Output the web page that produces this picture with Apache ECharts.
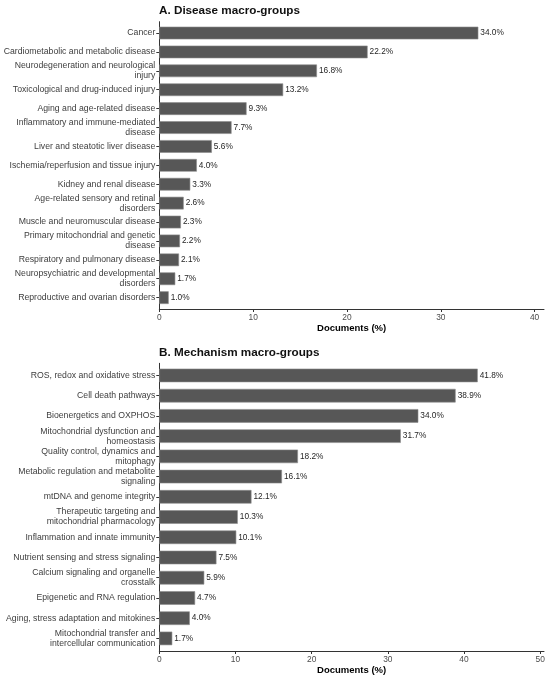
<!DOCTYPE html>
<html>
<head>
<meta charset="utf-8">
<script src="https://cdn.jsdelivr.net/npm/echarts@6/dist/echarts.min.js"></script>
<style>
html,body{margin:0;padding:0;background:#fff;}
#chart{width:550px;height:680px;}
</style>
</head>
<body>
<div id="chart"></div>
<script>
// ---- Data ----
const diseaseCategories = [
  "Cancer",
  "Cardiometabolic and metabolic disease",
  "Neurodegeneration and neurological\ninjury",
  "Toxicological and drug-induced injury",
  "Aging and age-related disease",
  "Inflammatory and immune-mediated\ndisease",
  "Liver and steatotic liver disease",
  "Ischemia/reperfusion and tissue injury",
  "Kidney and renal disease",
  "Age-related sensory and retinal\ndisorders",
  "Muscle and neuromuscular disease",
  "Primary mitochondrial and genetic\ndisease",
  "Respiratory and pulmonary disease",
  "Neuropsychiatric and developmental\ndisorders",
  "Reproductive and ovarian disorders"
];
const diseaseValues = [34.0, 22.2, 16.8, 13.2, 9.3, 7.7, 5.6, 4.0, 3.3, 2.6, 2.3, 2.2, 2.1, 1.7, 1.0];

const mechanismCategories = [
  "ROS, redox and oxidative stress",
  "Cell death pathways",
  "Bioenergetics and OXPHOS",
  "Mitochondrial dysfunction and\nhomeostasis",
  "Quality control, dynamics and\nmitophagy",
  "Metabolic regulation and metabolite\nsignaling",
  "mtDNA and genome integrity",
  "Therapeutic targeting and\nmitochondrial pharmacology",
  "Inflammation and innate immunity",
  "Nutrient sensing and stress signaling",
  "Calcium signaling and organelle\ncrosstalk",
  "Epigenetic and RNA regulation",
  "Aging, stress adaptation and mitokines",
  "Mitochondrial transfer and\nintercellular communication"
];
const mechanismValues = [41.8, 38.9, 34.0, 31.7, 18.2, 16.1, 12.1, 10.3, 10.1, 7.5, 5.9, 4.7, 4.0, 1.7];

const diseaseTicks = [0, 10, 20, 30, 40];
const mechanismTicks = [0, 10, 20, 30, 40, 50];

const titleA = "A. Disease macro-groups";
const titleB = "B. Mechanism macro-groups";
const xAxisTitle = "Documents (%)";

// ---- Styling ----
const FONT = "'Liberation Sans', Arial, sans-serif";
const AXIS_COLOR = "#333";
const BAR_COLOR = "#575757";

const L = 159.3, R = 6;
const A = {outerTop: 21.7, outerH: 287.3, band: 18.9, n: diseaseCategories.length, max: 41};
const B = {outerTop: 363.3, outerH: 287.7, band: 20.23, n: mechanismCategories.length, max: 50.5};

function grids(p) {
  return [
    {left: L, right: R, top: p.outerTop, height: p.outerH, containLabel: false},
    {left: L, right: R, top: p.outerTop + 0.1 * p.band, height: p.n * p.band, containLabel: false}
  ];
}

function xAxes(p, gi, ticks) {
  return [
    {
      type: 'value', gridIndex: gi, min: 0, max: p.max, interval: 10,
      axisLine: {show: true, lineStyle: {color: AXIS_COLOR, width: 1}},
      axisTick: {show: true, length: 3, customValues: ticks, lineStyle: {color: AXIS_COLOR}},
      axisLabel: {show: true, customValues: ticks, margin: 4.5, fontFamily: FONT, fontSize: 8.4, color: '#4d4d4d'},
      splitLine: {show: false},
      name: xAxisTitle, nameLocation: 'middle', nameGap: 14.5,
      nameTextStyle: {fontFamily: FONT, fontSize: 9.5, fontWeight: 'bold', color: '#000'}
    },
    {
      type: 'value', gridIndex: gi + 1, min: 0, max: p.max, show: false
    }
  ];
}

function yAxes(gi, cats) {
  return [
    {
      type: 'value', gridIndex: gi, min: 0, max: 1,
      axisLine: {show: true, onZero: false, lineStyle: {color: AXIS_COLOR, width: 1}},
      axisTick: {show: false}, axisLabel: {show: false}, splitLine: {show: false}
    },
    {
      type: 'category', gridIndex: gi + 1, data: cats, inverse: true,
      axisLine: {show: false},
      axisTick: {show: true, alignWithLabel: true, length: 3, lineStyle: {color: AXIS_COLOR}},
      axisLabel: {margin: 4, fontFamily: FONT, fontSize: 8.7, lineHeight: 10, color: '#3d3d3d', align: 'right'},
      splitLine: {show: false}
    }
  ];
}

function barSeries(values, xi, yi) {
  return {
    type: 'bar', xAxisIndex: xi, yAxisIndex: yi, data: values,
    barWidth: '67%',
    itemStyle: {color: BAR_COLOR, borderColor: '#8c8c8c', borderWidth: 0.6},
    label: {
      show: true, position: 'right', distance: 2,
      fontFamily: FONT, fontSize: 8.3, color: '#262626',
      formatter: p => p.value.toFixed(1) + '%'
    },
    silent: true, animation: false
  };
}

const option = {
  backgroundColor: '#fff',
  animation: false,
  title: [
    {text: titleA, left: L - 0.3, top: 4, padding: 0, textStyle: {fontFamily: FONT, fontSize: 11.7, fontWeight: 'bold', color: '#111', lineHeight: 14}},
    {text: titleB, left: L - 0.3, top: 345.7, padding: 0, textStyle: {fontFamily: FONT, fontSize: 11.7, fontWeight: 'bold', color: '#111', lineHeight: 14}}
  ],
  grid: [...grids(A), ...grids(B)],
  xAxis: [...xAxes(A, 0, diseaseTicks), ...xAxes(B, 2, mechanismTicks)],
  yAxis: [...yAxes(0, diseaseCategories), ...yAxes(2, mechanismCategories)],
  series: [
    barSeries(diseaseValues, 1, 1),
    barSeries(mechanismValues, 3, 3)
  ]
};

const chart = echarts.init(document.getElementById('chart'), null, {renderer: 'canvas'});
chart.setOption(option);
</script>
</body>
</html>
